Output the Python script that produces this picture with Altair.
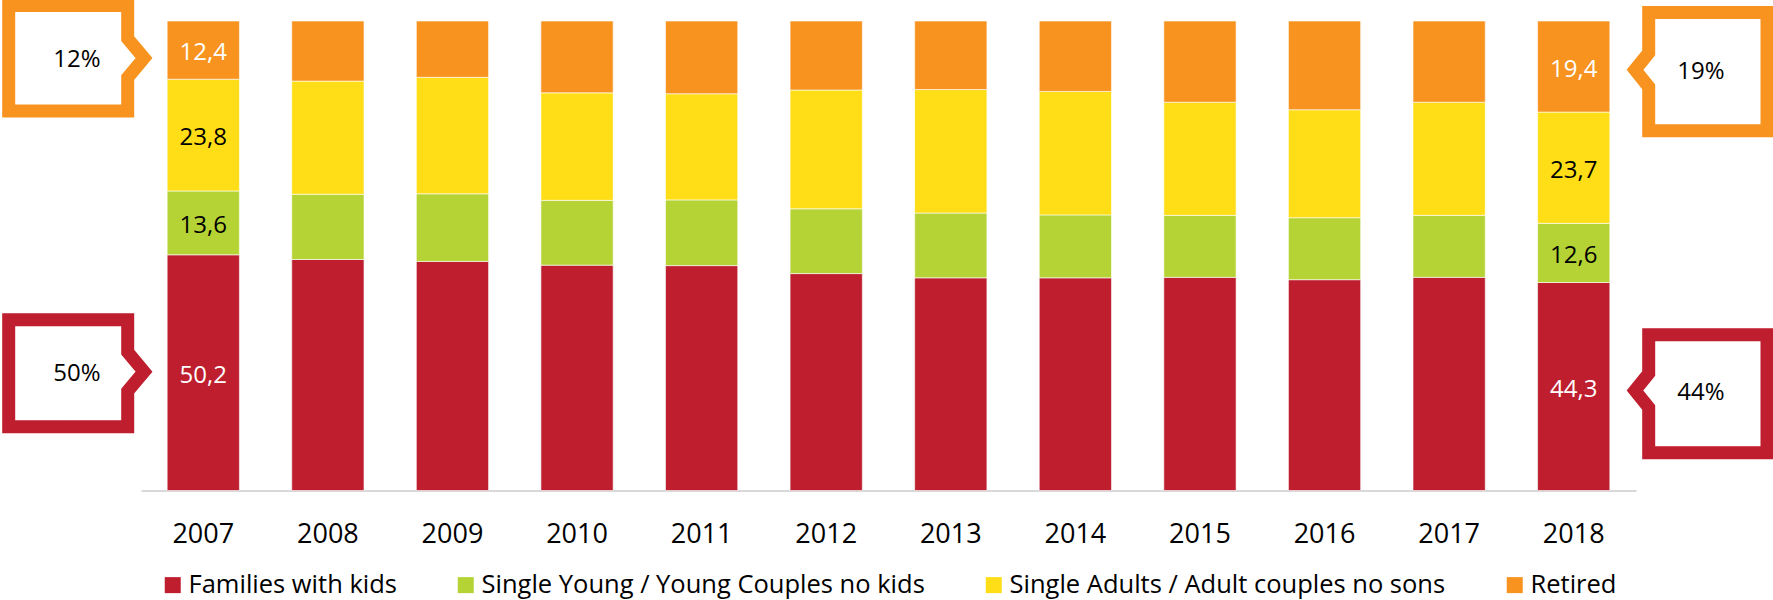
import altair as alt
import pandas as pd

# Household composition, share of total (%)
years = ["2007", "2008", "2009", "2010", "2011", "2012",
         "2013", "2014", "2015", "2016", "2017", "2018"]
families = [50.2, 49.2, 48.8, 48.0, 47.9, 46.2, 45.3, 45.3, 45.4, 44.9, 45.4, 44.3]
single_young = [13.6, 13.9, 14.4, 13.8, 14.0, 13.8, 13.8, 13.4, 13.2, 13.2, 13.2, 12.6]
single_adults = [23.8, 24.1, 24.8, 22.9, 22.6, 25.3, 26.3, 26.3, 24.1, 23.0, 24.1, 23.7]
retired = [12.4, 12.8, 12.0, 15.3, 15.5, 14.7, 14.6, 15.0, 17.3, 18.9, 17.3, 19.4]

groups = ["Families with kids", "Single Young / Young Couples no kids",
          "Single Adults / Adult couples no sons", "Retired"]
colors = ["#BE1E2D", "#B5D334", "#FFDE17", "#F7931E"]
label_colors = ["white", "black", "black", "white"]
series = [families, single_young, single_adults, retired]

# Rounded shares shown in the side callouts
callout_first = ["50%", "12%"]
callout_last = ["44%", "19%"]

W, H = 1773, 469.5
TOP = 21
PX = 100.0 / H  # data units per pixel on the y scale

rows = []
for i, y in enumerate(years):
    base = 0.0
    for k, g in enumerate(groups):
        v = series[k][i]
        rows.append({"year": y, "group": g, "order": k, "value": v,
                     "mid": base + v / 2, "txt": f"{v:.1f}".replace(".", ","),
                     "tcol": label_colors[k]})
        base += v
df = pd.DataFrame(rows)


def mid_of(year, group):
    r = df[(df.year == year) & (df.group == group)].iloc[0]
    return r["mid"]


# Callout outline: a box with a chevron pointing at a bar segment.
# Offsets are in pixels; positive dy is upwards.
def callout(cid, tip_y, side, color, up, down):
    if side == "left":
        x0, x1, tip_x, half = 8.7, 127.7, 144.0, 19.5
        pts = [((x0 + x1) / 2, -down), (x1, -down), (x1, -half), (tip_x, 0),
               (x1, half), (x1, up), (x0, up), (x0, -down), ((x0 + x1) / 2, -down)]
    else:
        x0, x1, tip_x, half = 1648.7, 1767.0, 1635.0, 17.0
        pts = [((x0 + x1) / 2, -down), (x1, -down), (x1, up), (x0, up),
               (x0, half), (tip_x, 0), (x0, -half), (x0, -down), ((x0 + x1) / 2, -down)]
    return [{"cid": cid, "seq": s, "px": px, "yv": tip_y + dy * PX, "col": color}
            for s, (px, dy) in enumerate(pts)]


c_rows, t_rows = [], []
# id, year, group, side, colour, text, tip shift (px, down), up, down, text x
specs = [
    ("L0", years[0], groups[0], "left", colors[0], callout_first[0], -1, 52, 55, 77),
    ("L3", years[0], groups[3], "left", colors[3], callout_first[1], 8, 52.5, 53, 77),
    ("R0", years[-1], groups[0], "right", colors[0], callout_last[0], 4, 55.7, 62.3, 1701),
    ("R3", years[-1], groups[3], "right", colors[3], callout_last[1], 3.3, 57.3, 60.8, 1701),
]
for cid, yr, g, side, col, txt, shift, up, down, tx in specs:
    tip = mid_of(yr, g) - shift * PX
    c_rows += callout(cid, tip, side, col, up, down)
    t_rows.append({"px": tx, "yv": tip - 2 * PX, "txt": txt})
cdf = pd.DataFrame(c_rows)
tdf = pd.DataFrame(t_rows)

FONT = "Open Sans"

x_band = alt.X("year:N", sort=years, title=None,
               scale=alt.Scale(range=[141, 1636], paddingInner=0.42, paddingOuter=0.21),
               axis=alt.Axis(labelAngle=0, labelFont=FONT, labelFontSize=27,
                             labelColor="black", ticks=False, tickSize=0,
                             labelPadding=31, domainColor="#D9D9D9",
                             domainWidth=2, grid=False))
y_pct = alt.Y("value:Q", stack="zero", title=None,
              scale=alt.Scale(domain=[0, 100], nice=False), axis=None)

bars = alt.Chart(df).mark_bar(stroke="white", strokeWidth=0.6).encode(
    x=x_band,
    y=y_pct,
    color=alt.Color("group:N", sort=groups,
                    scale=alt.Scale(domain=groups, range=colors),
                    legend=alt.Legend(title=None, orient="none", direction="horizontal",
                                      legendX=160, legendY=551,
                                      symbolType="square", symbolSize=256,
                                      symbolStrokeWidth=0, labelFont=FONT,
                                      labelFontSize=25.5, labelColor="black",
                                      labelOffset=3, columnPadding=56,
                                      labelLimit=1000)),
    order=alt.Order("order:Q"),
)

labels = alt.Chart(df[df.year.isin([years[0], years[-1]])]).mark_text(
    font=FONT, fontSize=24, baseline="middle", dy=3
).encode(
    x=alt.X("year:N", sort=years),
    y=alt.Y("mid:Q"),
    text="txt:N",
    color=alt.Color("tcol:N", scale=None),
)

x_px = alt.X("px:Q", scale=alt.Scale(domain=[0, W], nice=False, zero=False), axis=None)

outlines = alt.Chart(cdf).mark_line(strokeWidth=13, strokeJoin="miter",
                                    strokeMiterLimit=10, strokeCap="butt").encode(
    x=x_px,
    y=alt.Y("yv:Q"),
    detail="cid:N",
    order="seq:Q",
    stroke=alt.Stroke("col:N", scale=None),
)

callout_text = alt.Chart(tdf).mark_text(font=FONT, fontSize=24, color="black",
                                        baseline="middle").encode(
    x=x_px,
    y=alt.Y("yv:Q"),
    text="txt:N",
)

chart = alt.layer(
    alt.layer(bars, labels),
    alt.layer(outlines, callout_text),
).resolve_scale(x="independent").properties(
    width=W, height=H,
    autosize=alt.AutoSizeParams(type="none"),
    padding={"left": 0, "right": 0, "top": TOP, "bottom": 600 - TOP - H},
).configure_view(stroke=None)

chart.save("out.html", embed_options={"renderer": "svg", "actions": False})
